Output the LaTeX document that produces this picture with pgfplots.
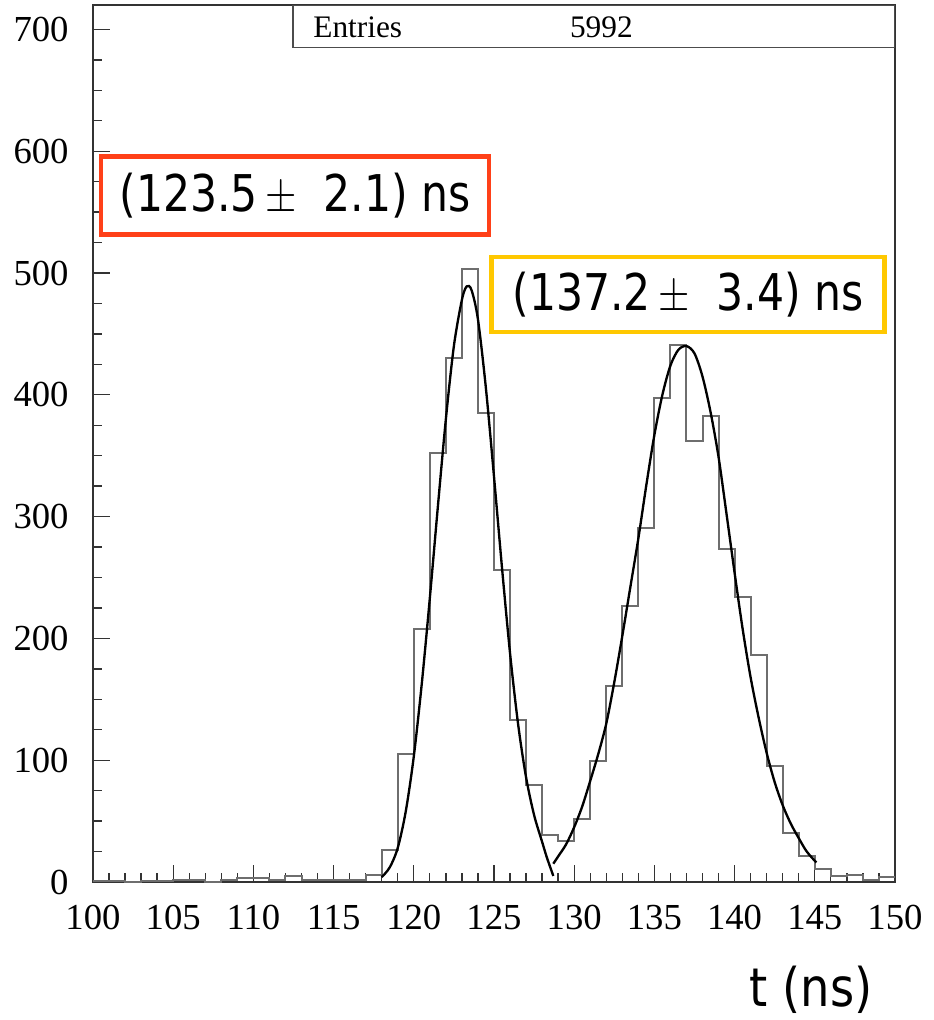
\documentclass[border=0pt]{standalone}
\usepackage{pgfplots}
\pgfplotsset{compat=1.18}
\usepackage{pgfplotstable}
\usepackage{fontspec}
\setmainfont{Liberation Serif}
\newfontfamily\comic{DejaVu Sans}
\definecolor{boxred}{RGB}{255,64,24}
\definecolor{boxyel}{RGB}{255,200,0}
\definecolor{histgray}{RGB}{110,110,110}

\pgfplotstableread{
x y
100 1
101 1
102 0
103 1
104 1
105 2
106 2
107 0
108 2
109 3
110 3
111 2
112 5
113 2
114 2
115 2
116 2
117 6
118 26
119 105
120 208
121 352
122 430
123 503
124 385
125 256
126 133
127 80
128 39
129 34
130 52
131 99
132 161
133 227
134 291
135 397
136 441
137 362
138 383
139 273
140 234
141 186
142 95
143 40
144 21
145 11
146 5
147 6
148 2
149 4
150 4
}\histdata

\begin{document}
\begin{tikzpicture}
\begin{axis}[
  name=ax, at={(0,0)}, anchor=south west,
  scale only axis, width=240.6pt, height=263.1pt,
  xmin=100, xmax=150, ymin=0, ymax=720,
  xtick={100,105,...,150}, minor x tick num=4,
  ytick={0,100,...,700}, minor y tick num=3,
  tick pos=left, tick align=inside,
  major tick length=5pt, minor tick length=2.6pt,
  axis line style={black!80, line width=0.5pt},
  tick style={black!80, line width=0.4pt},
  ticklabel style={font=\fontsize{11}{13}\selectfont},
  /pgf/number format/assume math mode=true,
  /pgf/number format/1000 sep={},
  yticklabel style={xshift=-3.8pt},
  xticklabel style={yshift=-3.5pt},
]
\addplot[const plot mark left, histgray, line width=0.6pt] table[x=x,y=y]{\histdata};
\addplot[smooth, black, line width=0.7pt] coordinates {
(118.0,4) (118.5,12) (119.0,28) (119.5,58) (120.0,103) (120.5,163)
(121.0,233) (121.5,308) (122.0,380) (122.5,440) (123.0,478) (123.3,489)
(123.6,486) (124.0,462) (124.5,405) (125.0,333) (125.5,258) (126.0,188)
(126.5,130) (127.0,86) (127.5,55) (128.0,33) (128.3,20) (128.7,5)
};
\addplot[smooth, black, line width=0.7pt] coordinates {
(128.7,15) (129.0,21) (129.5,31) (130.0,45) (130.5,62) (131.0,83)
(131.5,105) (132.0,130) (132.5,164) (133.0,202) (133.5,242) (134.0,282)
(134.5,326) (135.0,367) (135.5,400) (136.0,424) (136.5,437) (137.0,440)
(137.5,434) (138.0,415) (138.5,386) (139.0,349) (139.5,302) (140.0,254)
(140.5,208) (141.0,168) (141.5,135) (142.0,106) (142.5,82) (143.0,63)
(143.5,48) (144.0,36) (144.5,25) (145.1,16)
};
\draw[black!70, line width=0.4pt, fill=white] (axis cs:112.47,720) rectangle (axis cs:150,685);
\node[anchor=west, inner sep=0pt, font=\fontsize{9.4}{11}\selectfont] at (axis cs:113.7,702) {Entries};
\node[anchor=west, inner sep=0pt, font=\fontsize{9.4}{11}\selectfont] at (axis cs:129.7,702) {5992};
\node[draw=boxred, line width=1.3pt, fill=white, minimum width=116.4pt, minimum height=23.4pt, inner sep=0pt,
  font=\comic\fontsize{15.2}{17}\selectfont] at (axis cs:112.6,563.7)
  {\scalebox{0.84}[1]{(123.5\,$\pm$\ \ 2.1) ns}};
\node[draw=boxyel, line width=1.3pt, fill=white, minimum width=117.9pt, minimum height=22.5pt, inner sep=0pt,
  font=\comic\fontsize{15.2}{17}\selectfont] at (axis cs:137.1,482.3)
  {\scalebox{0.84}[1]{(137.2\,$\pm$\ \ 3.4) ns}};
\end{axis}
\node[inner sep=0pt, font=\comic\fontsize{16}{18}\selectfont] at ([shift={(215.4pt,-32.4pt)}]ax.south west) {\scalebox{0.87}[1]{t (ns)}};
\path ([shift={(-27.9pt,-41.4pt)}]ax.south west) rectangle ++(277.8pt,306pt);
\end{tikzpicture}
\end{document}
